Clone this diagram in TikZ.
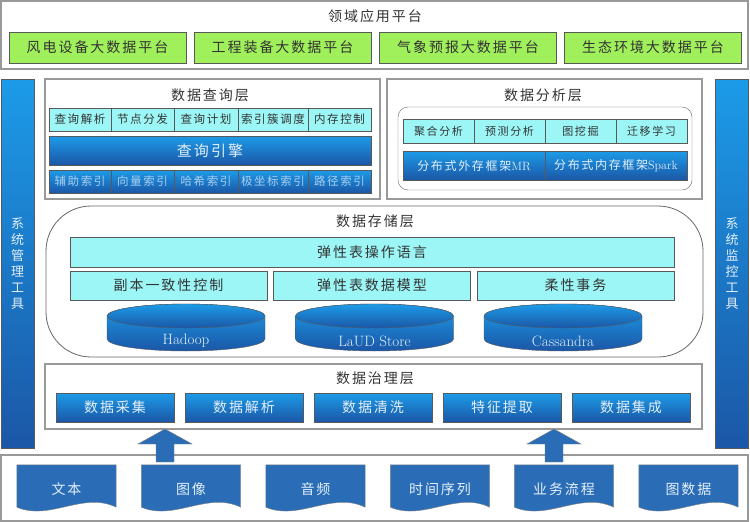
\documentclass[tikz,border=0pt]{standalone}
\usepackage{fontspec}
\usepackage{tikz}
\usetikzlibrary{backgrounds}

\newfontfamily\cjk[LetterSpace=14]{Noto Sans CJK SC}
\newcommand\cjkXL{\cjk\fontsize{15}{17}\selectfont}
\newcommand\cjkL{\cjk\fontsize{14}{16}\selectfont}
\newcommand\cjkV{\cjk\fontsize{13}{16}\selectfont}
\newcommand\cjkM{\cjk\fontsize{12}{14}\selectfont}
\newcommand\cjkS{\cjk\fontsize{11.5}{13}\selectfont}
\newcommand\cjkXS{\cjk\fontsize{11}{13}\selectfont}

\definecolor{platgreen}{HTML}{A0F05C}
\definecolor{cellcyan}{HTML}{9CF6F6}
\definecolor{blueTop}{HTML}{1C9BE8}
\definecolor{blueBot}{HTML}{1B57A6}
\definecolor{docblue}{HTML}{2A6DB6}
\definecolor{textgray}{HTML}{333333}
\definecolor{textlight}{HTML}{E2EFFA}
\definecolor{indextext}{HTML}{A9CFF0}

\begin{document}
\begin{tikzpicture}[x=1pt, y=-1pt,
    layerbox/.style={draw=gray!80, line width=1.2pt, inner sep=0pt}, % outer frame of a layer
    layertitle/.style={font=\cjkL, text=textgray},
    platbox/.style={draw=black!65, fill=platgreen, minimum width=177pt, minimum height=31pt, inner sep=0pt, font=\cjkL, text=textgray},
    cyanbox/.style={draw=black!65, fill=cellcyan, inner sep=0pt, text=textgray},
    bluebox/.style={draw=black!65, top color=blueTop, bottom color=blueBot, inner sep=0pt, text=textlight},
    sidebar/.style={bluebox, minimum width=33pt, minimum height=369pt, align=center, font=\cjkV},
    docnode/.style={minimum width=99pt, minimum height=48pt, inner sep=0pt, text=textlight, font=\cjkL},
    docshape/.style={draw=black!50, fill=docblue},
    blockarrow/.style={draw=black!50, fill=docblue},
    dbshade/.style={draw=black!65, top color=blueTop, bottom color=blueBot}
    ]
    \useasboundingbox (0,0) rectangle (750,522);

    % application layer
    \node[layerbox, minimum width=747pt, minimum height=68pt] (app) at (374.5,35) {};
    \node[layertitle] (apptitle) at (375,16) {领域应用平台};
    \foreach \x/\t [count=\i] in {97.5/风电设备大数据平台, 282.5/工程装备大数据平台, 468/气象预报大数据平台, 653/生态环境大数据平台}
        \node[platbox] (plat\i) at (\x,47.5) {\t};

    % side bars
    \node[sidebar] (manage) at (17.5,263.5) {系\\统\\管\\理\\工\\具};
    \node[sidebar] (monitor) at (732,263.5) {系\\统\\监\\控\\工\\具};

    % query layer
    \node[layerbox, minimum width=335pt, minimum height=120pt] (query) at (212.5,139) {};
    \node[layertitle] (querytitle) at (210,95) {数据查询层};
    \foreach \x/\w/\t [count=\i] in {80/62/查询解析, 142.5/63/节点分发, 206/64/查询计划, 273/70/索引簇调度, 339.5/63/内存控制}
        \node[cyanbox, minimum width=\w pt, minimum height=23pt, font=\cjkS] (qop\i) at (\x,119.5) {\t};
    \node[bluebox, minimum width=322pt, minimum height=29pt, font=\cjkXL] (engine) at (210,150.5) {查询引擎};
    \foreach \x/\w/\t [count=\i] in {80/62/辅助索引, 142.5/63/向量索引, 206/64/哈希索引, 273/70/极坐标索引, 339.5/63/路径索引}
        \node[bluebox, minimum width=\w pt, minimum height=23pt, font=\cjkS, text=indextext] (idx\i) at (\x,181.5) {\t};

    % analysis layer
    \node[layerbox, minimum width=315pt, minimum height=120pt] (analysis) at (544.5,139) {};
    \node[layertitle] (analysistitle) at (543,95) {数据分析层};
    \node[draw=black!60, rounded corners=10pt, minimum width=294pt, minimum height=83pt] (analysisin) at (545,148.5) {};
    \foreach \x/\t [count=\i] in {438.5/聚合分析, 509.5/预测分析, 580.5/图挖掘, 651.5/迁移学习}
        \node[cyanbox, minimum width=71pt, minimum height=24pt, font=\cjkXS] (alg\i) at (\x,131) {\t};
    \node[bluebox, minimum width=142pt, minimum height=29pt, font=\cjkM] (mr) at (474,165.5) {分布式外存框架{\normalfont MR}};
    \node[bluebox, minimum width=142pt, minimum height=29pt, font=\cjkM] (spark) at (616,165.5) {分布式内存框架{\normalfont Spark}};

    % storage layer
    \node[draw=black!60, line width=0.8pt, rounded corners=45pt, minimum width=657pt, minimum height=151pt] (storage) at (374.5,281.5) {};
    \node[layertitle] (storagetitle) at (375,221) {数据存储层};
    \node[cyanbox, minimum width=604pt, minimum height=30pt, font=\cjkL] (lang) at (372,252) {弹性表操作语言};
    \foreach \x/\t [count=\i] in {168.5/副本一致性控制, 372/弹性表数据模型, 575.5/柔性事务}
        \node[cyanbox, minimum width=197pt, minimum height=29pt, font=\cjkL] (store\i) at (\x,285.5) {\t};
    \foreach \x/\t [count=\i] in {186/Hadoop, 374.5/LaUD Store, 563/Cassandra} {
        \path[dbshade] (\x-79,316) -- (\x-79,339) arc[start angle=180, end angle=0, x radius=79, y radius=12]
            -- (\x+79,316) arc[start angle=0, end angle=-180, x radius=79, y radius=12] -- cycle;
        \path[dbshade] (\x,316) ellipse[x radius=79, y radius=12];
        \node[font=\fontsize{15}{18}\selectfont, text=textlight] (db\i) at (\x,341) {\t};
    }

    % governance layer
    \node[layerbox, minimum width=657pt, minimum height=65pt] (govern) at (373.5,396.5) {};
    \node[layertitle] (governtitle) at (375,378) {数据治理层};
    \foreach \x/\t [count=\i] in {115/数据采集, 244/数据解析, 373/数据清洗, 502/特征提取, 631/数据集成}
        \node[bluebox, minimum width=118pt, minimum height=29pt, font=\cjkL] (gov\i) at (\x,407.5) {\t};

    % data sources
    \node[layerbox, minimum width=747pt, minimum height=66pt] (source) at (374.5,488) {};
    \foreach \x/\t [count=\i] in {66.5/文本, 191/图像, 315.5/音频, 440/时间序列, 564/业务流程, 688.5/图数据}
        \node[docnode] (doc\i) at (\x,489) {\t};
    \begin{scope}[on background layer]
        \foreach \i in {1,...,6}
            \draw[docshape] (doc\i.north west) -- (doc\i.north east) -- ([yshift=6pt]doc\i.south east)
                .. controls +(-33,-16) and +(33,14) .. ([yshift=6pt]doc\i.south west) -- cycle;
    \end{scope}

    % block arrows into the governance layer
    \coordinate (tip1) at (165,429);
    \coordinate (tip2) at (554,429);
    \foreach \i in {1,2}
        \draw[blockarrow] (tip\i) -- ++(27,15) -- ++(-18,0) -- ++(0,18) -- ++(-18,0) -- ++(0,-18) -- ++(-18,0) -- cycle;
\end{tikzpicture}
\end{document}
